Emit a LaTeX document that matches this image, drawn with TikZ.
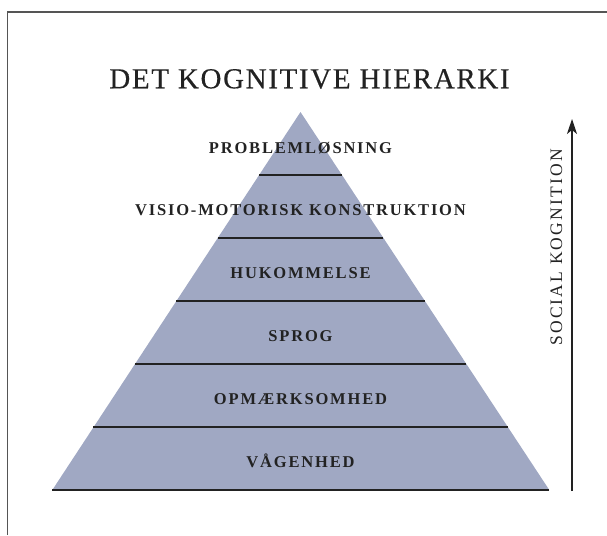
\documentclass[tikz,border=0pt]{standalone}
\usepackage{fontspec}
\setmainfont{Liberation Serif}
\usetikzlibrary{arrows.meta}
\definecolor{pyrfill}{HTML}{A0A8C3}
\definecolor{txtdark}{HTML}{222222}
\definecolor{framegray}{HTML}{555555}
\tikzset{
  layerlabel/.style={anchor=base, text=txtdark, font=\fontsize{16.5}{19}\selectfont\bfseries\addfontfeatures{LetterSpace=11}},
  sepline/.style={draw=txtdark, line width=1.3pt},
  titlestyle/.style={anchor=base, text=txtdark, font=\fontsize{29}{34}\selectfont\addfontfeatures{LetterSpace=5.7,FakeBold=0.4}},
  sidestyle/.style={text=txtdark, rotate=90, font=\fontsize{17.5}{20}\selectfont\addfontfeatures{LetterSpace=12.5}},
}
\begin{document}
\begin{tikzpicture}[x=1pt,y=-1pt]
\useasboundingbox (0,0) rectangle (607,535);
% frame
\draw[framegray, line width=1.3pt] (7.3,535) -- (7.3,12) -- (607,12);
% pyramid
\coordinate (apex) at (300.5,112);
\coordinate (bl) at (52.3,490);
\coordinate (br) at (549.3,490);
\fill[pyrfill] (apex) -- (bl) -- (br) -- cycle;
% separator lines
\foreach \k in {1,...,5}{
  \pgfmathsetmacro{\yy}{112+63*\k}
  \pgfmathsetmacro{\hw}{248.5/378*63*\k}
  \coordinate (L\k) at (300.5-\hw,\yy);
  \coordinate (R\k) at (300.5+\hw,\yy);
  \draw[sepline] (L\k) -- (R\k);
}
\draw[sepline] (bl) -- (br);
% title
\node[titlestyle] (title) at (309.5,88.3) {DET KOGNITIVE HIERARKI};
% labels
\node[layerlabel] (l1) at (300.5,153) {PROBLEMLØSNING};
\node[layerlabel] (l2) at (300.5,215.5) {VISIO-MOTORISK KONSTRUKTION};
\node[layerlabel] (l3) at (300.5,278.5) {HUKOMMELSE};
\node[layerlabel] (l4) at (300.5,341) {SPROG};
\node[layerlabel] (l5) at (300.5,404) {OPMÆRKSOMHED};
\node[layerlabel] (l6) at (300.5,467.3) {VÅGENHED};
% arrow
\coordinate (abot) at (572,491);
\coordinate (atop) at (572,119);
\draw[txtdark, line width=1.1pt, -{Stealth[length=15pt,width=10pt,inset=4pt]}] (abot) -- (atop);
\node[sidestyle] (side) at (556.5,247.5) {SOCIAL KOGNITION};
\end{tikzpicture}
\end{document}
